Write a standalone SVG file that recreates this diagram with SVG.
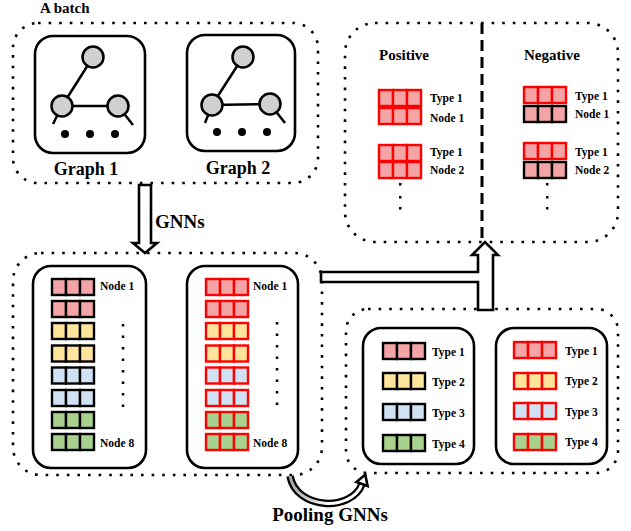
<svg xmlns="http://www.w3.org/2000/svg" xmlns:xlink="http://www.w3.org/1999/xlink" width="631" height="531" viewBox="0 0 631 531">
<style>
.t{font-family:"Liberation Serif","Times New Roman",serif;font-weight:bold;fill:#000}
.s11{font-size:11.5px}
.dot{fill:none;stroke:#000;stroke-width:2.6;stroke-dasharray:2.6 8}
.box{fill:#fff;stroke:#000;stroke-width:2.6}
.edge{stroke:#000;stroke-width:2.5;fill:none}
.gn{fill:#d0d0d0;stroke:#000;stroke-width:2.5}
.bk{stroke:#000;stroke-width:2.4}
.rd{stroke:#f00;stroke-width:2.4}
.pk{fill:#f4a4a4}
.yl{fill:#ffe49c}
.bl{fill:#cfe1f2}
.gr{fill:#a8d18e}
.hollow{fill:#fff;stroke:#000;stroke-width:2.6;stroke-linejoin:miter}
.vd{fill:#000}
</style>
<defs>
<g id="blk"><rect x="0" y="0" width="14" height="16"/><rect x="14" y="0" width="14" height="16"/><rect x="28" y="0" width="14" height="16"/></g>
<linearGradient id="gg" gradientUnits="userSpaceOnUse" x1="288" y1="0" x2="330" y2="0"><stop offset="0" stop-color="#a0a0a0"/><stop offset="1" stop-color="#ffffff"/></linearGradient>
</defs>

<!-- containers -->
<g id="batch">
<rect class="dot" x="13" y="23" width="305" height="160" rx="25"/>
<text class="t" x="40" y="13" font-size="15">A batch</text>
</g>

<g id="graph1">
<rect class="box" x="35" y="36" width="110" height="117" rx="18"/>
<line class="edge" x1="93" y1="57" x2="62" y2="106"/>
<line class="edge" x1="62" y1="106" x2="118" y2="106"/>
<line class="edge" x1="62" y1="106" x2="53" y2="124"/>
<line class="edge" x1="118" y1="106" x2="133" y2="125"/>
<circle class="gn" cx="93" cy="57" r="10.5"/>
<circle class="gn" cx="62" cy="106" r="10.5"/>
<circle class="gn" cx="118" cy="106" r="10.5"/>
<circle cx="65" cy="134" r="4"/><circle cx="90" cy="134" r="4"/><circle cx="115" cy="134" r="4"/>
<text class="t" x="86" y="175" font-size="18" text-anchor="middle">Graph 1</text>
</g>

<g id="graph2">
<rect class="box" x="187" y="35" width="108" height="116" rx="18"/>
<line class="edge" x1="243" y1="57" x2="212" y2="105"/>
<line class="edge" x1="212" y1="105" x2="270" y2="104"/>
<line class="edge" x1="212" y1="105" x2="205" y2="123"/>
<line class="edge" x1="270" y1="104" x2="285" y2="123"/>
<circle class="gn" cx="243" cy="57" r="10.5"/>
<circle class="gn" cx="212" cy="105" r="10.5"/>
<circle class="gn" cx="270" cy="104" r="10.5"/>
<circle cx="217" cy="132" r="4"/><circle cx="242" cy="132" r="4"/><circle cx="267" cy="132" r="4"/>
<text class="t" x="238" y="174" font-size="18" text-anchor="middle">Graph 2</text>
</g>

<g id="posneg">
<rect class="dot" x="345" y="23" width="273" height="219" rx="30"/>
<line x1="482" y1="23" x2="482" y2="242" stroke="#000" stroke-width="3" stroke-dasharray="11 6"/>
<text class="t" x="379" y="60" font-size="15">Positive</text>
<text class="t" x="524" y="60" font-size="15">Negative</text>
<use href="#blk" x="379" y="90" class="pk rd"/>
<use href="#blk" x="379" y="108" class="pk rd"/>
<use href="#blk" x="379" y="145" class="pk rd"/>
<use href="#blk" x="379" y="162" class="pk rd"/>
<text class="t s11" x="430" y="102">Type 1</text>
<text class="t s11" x="430" y="122">Node 1</text>
<text class="t s11" x="430" y="156">Type 1</text>
<text class="t s11" x="430" y="174">Node 2</text>
<rect class="vd" x="399" y="183" width="2.5" height="2.5"/><rect class="vd" x="399" y="196" width="2.5" height="2.5"/><rect class="vd" x="399" y="207" width="2.5" height="2.5"/>
<use href="#blk" x="524" y="87" class="pk rd"/>
<use href="#blk" x="524" y="106" class="pk bk"/>
<use href="#blk" x="524" y="143" class="pk rd"/>
<use href="#blk" x="524" y="162" class="pk bk"/>
<text class="t s11" x="575" y="100">Type 1</text>
<text class="t s11" x="575" y="118">Node 1</text>
<text class="t s11" x="575" y="156">Type 1</text>
<text class="t s11" x="575" y="174">Node 2</text>
<rect class="vd" x="546" y="183" width="2.5" height="2.5"/><rect class="vd" x="546" y="196" width="2.5" height="2.5"/><rect class="vd" x="546" y="207" width="2.5" height="2.5"/>
</g>

<g id="nodeemb">
<rect class="dot" x="13" y="253" width="309" height="222" rx="28"/>
</g>

<g id="emb1">
<rect class="box" x="33" y="266" width="113" height="202" rx="18"/>
<use href="#blk" x="52" y="279" class="pk bk"/>
<use href="#blk" x="52" y="301" class="pk bk"/>
<use href="#blk" x="52" y="323" class="yl bk"/>
<use href="#blk" x="52" y="345.5" class="yl bk"/>
<use href="#blk" x="52" y="367.5" class="bl bk"/>
<use href="#blk" x="52" y="390" class="bl bk"/>
<use href="#blk" x="52" y="412" class="gr bk"/>
<use href="#blk" x="52" y="434" class="gr bk"/>
<text class="t s11" x="100" y="290">Node 1</text>
<text class="t s11" x="100" y="447">Node 8</text>
<g class="vd"><rect x="121.8" y="324" width="2.5" height="2.5"/><rect x="121.8" y="335.5" width="2.5" height="2.5"/><rect x="121.8" y="347" width="2.5" height="2.5"/><rect x="121.8" y="358.5" width="2.5" height="2.5"/><rect x="121.8" y="370" width="2.5" height="2.5"/><rect x="121.8" y="381.5" width="2.5" height="2.5"/><rect x="121.8" y="393" width="2.5" height="2.5"/><rect x="121.8" y="404.5" width="2.5" height="2.5"/></g>
</g>

<g id="emb2">
<rect class="box" x="187" y="266" width="111" height="202" rx="18"/>
<use href="#blk" x="206" y="279" class="pk rd"/>
<use href="#blk" x="206" y="301" class="pk rd"/>
<use href="#blk" x="206" y="323" class="yl rd"/>
<use href="#blk" x="206" y="345.5" class="yl rd"/>
<use href="#blk" x="206" y="367.5" class="bl rd"/>
<use href="#blk" x="206" y="390" class="bl rd"/>
<use href="#blk" x="206" y="412" class="gr rd"/>
<use href="#blk" x="206" y="434" class="gr rd"/>
<text class="t s11" x="253" y="290">Node 1</text>
<text class="t s11" x="253" y="447">Node 8</text>
<g class="vd"><rect x="275.8" y="322" width="2.5" height="2.5"/><rect x="275.8" y="333.5" width="2.5" height="2.5"/><rect x="275.8" y="345" width="2.5" height="2.5"/><rect x="275.8" y="356.5" width="2.5" height="2.5"/><rect x="275.8" y="368" width="2.5" height="2.5"/><rect x="275.8" y="379.5" width="2.5" height="2.5"/><rect x="275.8" y="391" width="2.5" height="2.5"/><rect x="275.8" y="402.5" width="2.5" height="2.5"/></g>
</g>

<g id="typeemb">
<rect class="dot" x="346" y="309" width="272" height="164" rx="22"/>
</g>

<g id="type1">
<rect class="box" x="363" y="328" width="111" height="136" rx="18"/>
<use href="#blk" x="383" y="343" class="pk bk"/>
<use href="#blk" x="383" y="373" class="yl bk"/>
<use href="#blk" x="383" y="404" class="bl bk"/>
<use href="#blk" x="383" y="435" class="gr bk"/>
<text class="t s11" x="432" y="356">Type 1</text>
<text class="t s11" x="432" y="386">Type 2</text>
<text class="t s11" x="432" y="417">Type 3</text>
<text class="t s11" x="432" y="448">Type 4</text>
</g>

<g id="type2">
<rect class="box" x="496" y="328" width="111" height="136" rx="18"/>
<use href="#blk" x="514" y="342" class="pk rd"/>
<use href="#blk" x="514" y="373" class="yl rd"/>
<use href="#blk" x="514" y="403" class="bl rd"/>
<use href="#blk" x="514" y="434" class="gr rd"/>
<text class="t s11" x="565" y="355">Type 1</text>
<text class="t s11" x="565" y="385">Type 2</text>
<text class="t s11" x="565" y="416">Type 3</text>
<text class="t s11" x="565" y="446">Type 4</text>
</g>

<!-- connectors -->
<g id="connectors">
<path class="hollow" d="M139,185 L151,185 L151,243 L157,243 L145,253 L133,243 L139,243 Z"/>
<text class="t" x="155" y="228" font-size="19">GNNs</text>
<path class="hollow" d="M321,272 L478,272 L478,255 L472,255 L485,242 L498,255 L493,255 L493,310 L478,310 L478,282 L321,282 Z"/>
<path d="M290,476 C296,510 352,512 362,484" fill="none" stroke="#000" stroke-width="7.5"/>
<path d="M290,476 C296,510 352,512 362,484" fill="none" stroke="url(#gg)" stroke-width="3"/>
<path class="hollow" d="M367.6,486 L365.3,474.6 L356.4,482 Z" stroke-width="2.2"/>
<text class="t" x="330" y="521" font-size="19" text-anchor="middle">Pooling GNNs</text>
</g>
</svg>
